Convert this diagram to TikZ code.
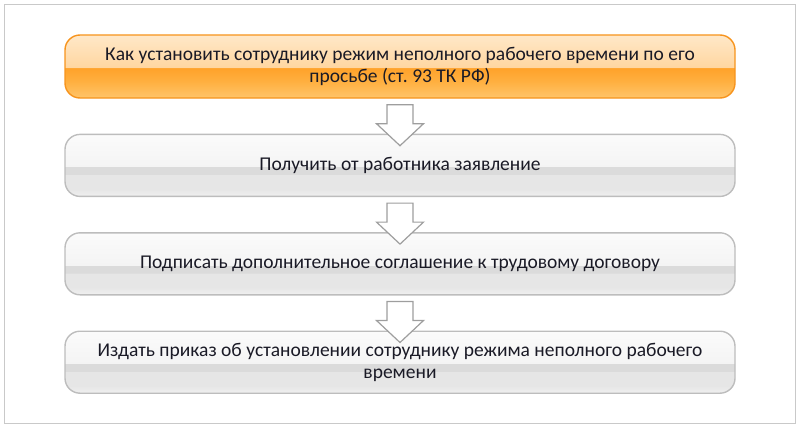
\documentclass[tikz,border=0pt]{standalone}
\usepackage{fontspec}
\setmainfont{Carlito}
\usepackage{xcolor}
\usetikzlibrary{positioning}
\usetikzlibrary{calc}
\definecolor{textdark}{HTML}{1A1A26}
\definecolor{orangeedge}{HTML}{F7941D}
\definecolor{greyedge}{HTML}{BDBDBD}
\definecolor{arrowedge}{HTML}{9E9E9E}
\definecolor{frameedge}{HTML}{C9C9C9}
\definecolor{orangelow}{HTML}{FFC46A}
\definecolor{orangemid}{HTML}{FFB040}
\definecolor{orangedeep}{HTML}{FFA22A}
\definecolor{orangepale}{HTML}{FFD6A0}
\definecolor{orangetop}{HTML}{FFE8C8}
\definecolor{greylow}{HTML}{F0F0F0}
\definecolor{greymid}{HTML}{E6E6E6}
\definecolor{greyband}{HTML}{DBDBDB}
\definecolor{greypale}{HTML}{F4F4F4}
\definecolor{greytop}{HTML}{FBFBFB}
\pgfdeclareverticalshading{orangebar}{100bp}{color(0bp)=(orangelow); color(25bp)=(orangelow); color(38bp)=(orangemid); color(48.8bp)=(orangedeep); color(48.9bp)=(orangepale); color(75bp)=(orangetop); color(100bp)=(orangetop)}
\pgfdeclareverticalshading{greybar}{100bp}{color(0bp)=(greylow); color(25bp)=(greylow); color(31bp)=(greymid); color(42.5bp)=(greymid); color(42.6bp)=(greyband); color(48.8bp)=(greyband); color(48.9bp)=(greypale); color(75bp)=(greytop); color(100bp)=(greytop)}
\tikzset{flow box/.style={
          rounded corners=15pt,
          minimum width=670pt,
          minimum height=62pt,
          align=center,
          text=textdark,
          line width=1.4pt,
          font=\fontsize{19.5}{22}\selectfont
          },
        flow head/.style={flow box, draw=orangeedge, shading=orangebar, minimum height=63pt},
        flow step/.style={flow box, draw=greyedge, shading=greybar},
        flow arrow/.style={draw=arrowedge, fill=white, line width=1.2pt},
        frame line/.style={draw=frameedge, line width=1pt},
}
% block arrow from the box #1 down into the box #2
\newcommand{\flowarrow}[2]{
  \path (#1.south) ++(0,-6) coordinate (stem top)
        (#2.north) ++(0,-12) coordinate (tip);
  \draw[flow arrow] ($(stem top)+(-13,0)$) -- ($(stem top)+(13,0)$) -- ($(tip)+(13,22)$)
    -- ($(tip)+(23.5,22)$) -- (tip) -- ($(tip)+(-23.5,22)$) -- ($(tip)+(-13,22)$) -- cycle;
}

\begin{document}
\begin{tikzpicture}[x=1pt, y=1pt, node distance=35pt]
      \useasboundingbox (0,0) rectangle (800,-428);
      % FRAME
      \draw[frame line] (4.5,-4.5) rectangle (795.5,-423.5);

      % STEPS
      \node[flow head] (step1) at (400,-66.5) {Как установить сотруднику режим неполного рабочего времени по его\\просьбе (ст.~93 ТК РФ)};
      \node[flow step, below=of step1] (step2) {Получить от работника заявление};
      \node[flow step, below=of step2] (step3) {Подписать дополнительное соглашение к трудовому договору};
      \node[flow step, below=of step3] (step4) {Издать приказ об установлении сотруднику режима неполного рабочего\\времени};

      % ARROWS
      \flowarrow{step1}{step2}
      \flowarrow{step2}{step3}
      \flowarrow{step3}{step4}
\end{tikzpicture}
\end{document}
